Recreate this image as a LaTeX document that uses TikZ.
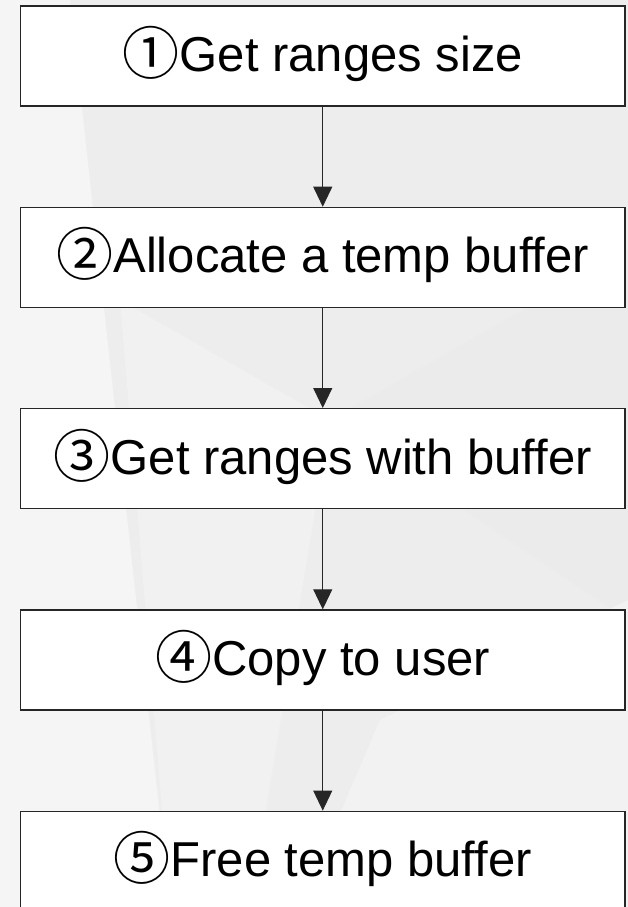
\documentclass[tikz,border=0pt]{standalone}
\usepackage{fontspec}
\setmainfont{Liberation Sans}
\newfontfamily\cjk{Noto Sans CJK SC}
\usetikzlibrary{arrows.meta}
\tikzset{
  stepbox/.style={draw=black!85, line width=1.2pt, fill=white,
    minimum width=604.5pt, minimum height=100pt, inner sep=0pt,
    font=\fontsize{49}{58}\selectfont, text height=40pt, text depth=9pt},
  flow/.style={draw=black!85, line width=0.9pt, -{Triangle[width=19pt,length=20pt]}},
  bgshade/.style={draw=none}
}
\newcommand\circnum[1]{\raisebox{-3pt}{\fontsize{57}{60}\selectfont\cjk #1}}
\begin{document}
\begin{tikzpicture}[x=1pt,y=-1pt]
\useasboundingbox (0,0) rectangle (628,907);
\clip (0,0) rectangle (628,907);
% background
\fill[black!7] (0,0) rectangle (628,907);
\fill[bgshade, black!4] (0,0) -- (70,0) -- (170,907) -- (0,907) -- cycle;
\fill[bgshade, black!5.5] (120,300) -- (330,420) -- (250,907) -- (170,907) -- cycle;
\fill[bgshade, black!8] (330,420) -- (628,250) -- (628,620) -- cycle;
\fill[bgshade, black!5] (380,720) -- (628,600) -- (628,907) -- (300,907) -- cycle;
% steps
\node[stepbox] (s1) at (322.75,56)    {\circnum{①}Get ranges size};
\node[stepbox] (s2) at (322.75,257.3) {\circnum{②}Allocate a temp buffer};
\node[stepbox] (s3) at (322.75,458.6) {\circnum{③}Get ranges with buffer};
\node[stepbox] (s4) at (322.75,659.9) {\circnum{④}Copy to user};
\node[stepbox] (s5) at (322.75,861.2) {\circnum{⑤}Free temp buffer};
% connectors
\draw[flow] (s1) -- (s2);
\draw[flow] (s2) -- (s3);
\draw[flow] (s3) -- (s4);
\draw[flow] (s4) -- (s5);
\end{tikzpicture}
\end{document}
